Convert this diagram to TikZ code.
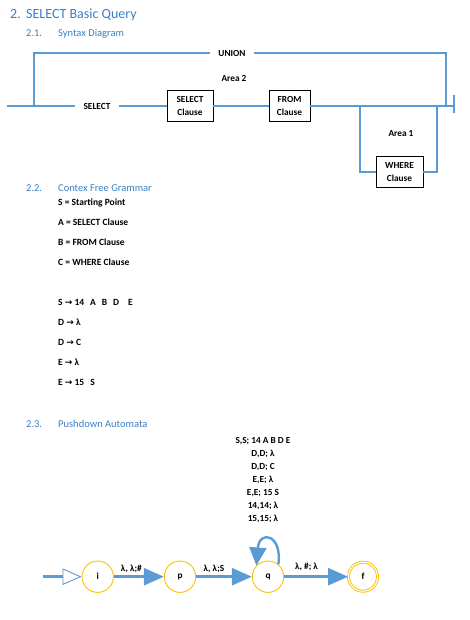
\documentclass[tikz,border=0pt]{standalone}
\usepackage{fontspec}
\setmainfont{Carlito}
\newfontfamily\arrowfont{DejaVu Sans}
\usetikzlibrary{arrows.meta}
\definecolor{headblue}{HTML}{3B7FC4}
\definecolor{lineblue}{HTML}{5B9BD5}
\definecolor{stategold}{HTML}{FFC000}
\newcommand{\ra}{{\arrowfont\fontsize{9}{10}\selectfont →}}
\begin{document}
\begin{tikzpicture}[x=1pt,y=1pt,
  hone/.style={anchor=base west, inner sep=0, text=headblue, font=\fontsize{14}{16}\selectfont},
  htwo/.style={anchor=base west, inner sep=0, text=headblue, font=\fontsize{10.5}{12}\selectfont},
  body/.style={anchor=base west, inner sep=0, font=\fontsize{9.5}{11}\selectfont\bfseries},
  lbl/.style={inner sep=0, font=\fontsize{9.3}{11}\selectfont\bfseries},
  clause/.style={draw=black, line width=0.9pt, fill=white, inner sep=0, align=center,
     minimum height=31pt, font=\fontsize{9.3}{12.7}\selectfont\bfseries},
  syn/.style={draw=lineblue, line width=2.1pt, line join=miter},
  state/.style={circle, draw=stategold, line width=0.9pt, minimum size=31.4pt, inner sep=0,
     font=\fontsize{9.3}{11}\selectfont\bfseries},
  pdaedge/.style={draw=lineblue, line width=2.6pt, -{Triangle[length=20pt,width=17pt]}},
  elbl/.style={inner sep=0, font=\fontsize{9.3}{11}\selectfont\bfseries}
]
\useasboundingbox (0,0) rectangle (469,-620);

% headings
\node[hone] (t1n) at (10,-18.3) {2.};
\node[hone] (t1) at (26,-18.3) {SELECT Basic Query};
\node[htwo] (t2n) at (26,-36.7) {2.1.};
\node[htwo] (t2) at (58,-36.7) {Syntax Diagram};
\node[htwo] (t3n) at (26,-192) {2.2.};
\node[htwo] (t3) at (58,-192) {Contex Free Grammar};
\node[htwo] (t4n) at (26,-427) {2.3.};
\node[htwo] (t4) at (58,-427) {Pushdown Automata};

% syntax diagram
\coordinate (s0) at (7,-106);
\coordinate (u1) at (34,-106);
\coordinate (u2) at (34,-53);
\coordinate (u3) at (446,-53);
\coordinate (u4) at (446,-106);
\coordinate (a1) at (360,-106);
\coordinate (a2) at (360,-172);
\coordinate (a3) at (437,-172);
\coordinate (a4) at (437,-106);
\coordinate (e0) at (454,-106);
\coordinate (eb1) at (454,-95);
\coordinate (eb2) at (454,-113);

\node[lbl, minimum width=44pt] (unionlbl) at (232,-53) {UNION};
\node[lbl, minimum width=44pt] (selectlbl) at (97,-106) {SELECT};
\node[clause, minimum width=46pt] (selclause) at (190,-106) {SELECT\\Clause};
\node[clause, minimum width=41pt] (fromclause) at (289.5,-106) {FROM\\Clause};
\node[clause, minimum width=47pt] (whereclause) at (399.5,-172) {WHERE\\Clause};
\node[lbl] (area2) at (234,-78) {Area 2};
\node[lbl] (area1) at (401,-134) {Area 1};

\draw[syn] (s0) -- (selectlbl);
\draw[syn] (selectlbl) -- (selclause);
\draw[syn] (selclause) -- (fromclause);
\draw[syn] (fromclause) -- (e0);
\draw[syn] (u1) -- (u2) -- (unionlbl);
\draw[syn] (unionlbl) -- (u3) -- (u4);
\draw[syn] (a1) -- (a2) -- (whereclause);
\draw[syn] (whereclause) -- (a3) -- (a4);
\draw[syn] (eb1) -- (eb2);

% grammar
\node[body] (g1) at (58,-205.5) {S = Starting Point};
\node[body] (g2) at (58,-225.5) {A = SELECT Clause};
\node[body] (g3) at (58,-245.5) {B = FROM Clause};
\node[body] (g4) at (58,-265.5) {C = WHERE Clause};
\node[body] (r1) at (58,-305.5) {S \ra{} 14\hspace{6pt}A\hspace{6pt}B\hspace{6pt}D\hspace{9pt}E};
\node[body] (r2) at (58,-325.5) {D \ra{} λ};
\node[body] (r3) at (58,-345.5) {D \ra{} C};
\node[body] (r4) at (58,-365.5) {E \ra{} λ};
\node[body] (r5) at (58,-385.5) {E \ra{} 15\hspace{6pt}S};

% pushdown automaton
\node[state] (i) at (97.7,-576.7) {i};
\node[state] (p) at (180,-576.7) {p};
\node[state] (q) at (268,-576.7) {q};
\node[state, double=white, double distance=1.1pt, minimum size=29pt] (f) at (363,-576.7) {f};
\coordinate (start) at (43,-576.7);

\node[elbl, align=center, font=\fontsize{9.3}{13}\selectfont\bfseries] (looplbl) at (263,-480)
  {S,S; 14 A B D E\\D,D; λ\\D,D; C\\E,E; λ\\E,E; 15 S\\14,14; λ\\15,15; λ};

\draw[draw=lineblue, line width=2.6pt, -{Triangle[open, length=19pt, width=16.5pt, line width=0.9pt]}] (start) -- (i);
\draw[pdaedge] (i) -- node[elbl, pos=0.35, yshift=7.7pt] (l1) {λ, λ;\#} (p);
\draw[pdaedge] (p) -- node[elbl, pos=0.32, yshift=7.7pt] (l2) {λ, λ;S} (q);
\draw[pdaedge] (q) -- node[elbl, pos=0.35, yshift=9.7pt] (l3) {λ, \#; λ} (f);
\draw[draw=lineblue, line width=2.4pt, -{Triangle[length=18pt,width=17pt]}]
  (q.50) .. controls ++(4,30) and ++(3,36) .. (q.136);
\end{tikzpicture}
\end{document}
